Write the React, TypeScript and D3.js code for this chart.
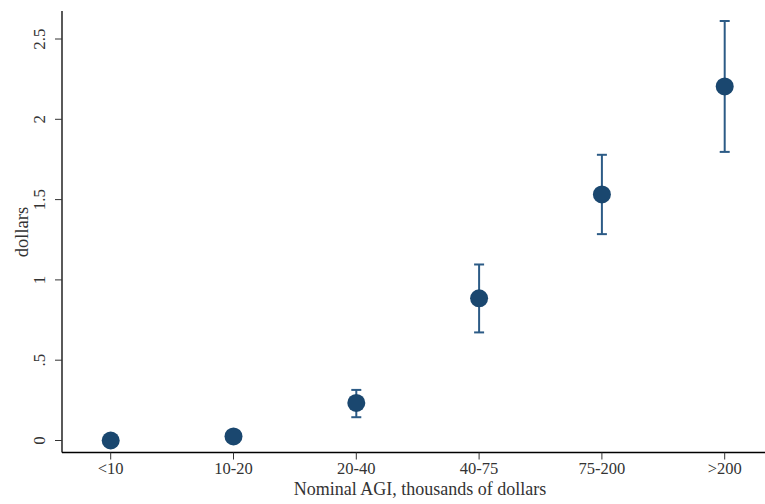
import React from "react";
import * as d3 from "d3";

const categories = ["<10", "10-20", "20-40", "40-75", "75-200", ">200"];
const means = [0.0, 0.025, 0.234, 0.885, 1.532, 2.205];
const lower = [null, null, 0.145, 0.673, 1.285, 1.797];
const upper = [null, null, 0.315, 1.096, 1.779, 2.612];
const yTicks = [0, 0.5, 1, 1.5, 2, 2.5];
const yTickLabels = ["0", ".5", "1", "1.5", "2", "2.5"];

const W = 765;
const H = 504;
const axisLeft = 62;
const axisBottom = 452.5;
const axisTop = 11;
const axisRight = 765;

export default function App() {
  const x = d3.scalePoint<string>().domain(categories).range([110.7, 724.7]);
  const y = d3.scaleLinear().domain([0, 2.5]).range([440.5, 39]);
  const navy = "#1a476f";
  const errColor = "#2c5b86";
  const font = "'Liberation Serif', 'Times New Roman', serif";
  return (
    <svg
      width={W}
      height={H}
      style={{ position: "absolute", left: 0, top: 0, background: "#fff" }}
      fontFamily={font}
    >
      <rect x={0} y={0} width={W} height={H} fill="#fff" />
      {/* y axis */}
      <line x1={axisLeft} x2={axisLeft} y1={axisTop} y2={axisBottom} stroke="#000" strokeWidth={1.3} />
      {yTicks.map((t, i) => (
        <g key={t}>
          <line x1={axisLeft - 7} x2={axisLeft} y1={y(t)} y2={y(t)} stroke="#333" strokeWidth={1} />
          <text
            transform={`translate(${45},${y(t)}) rotate(-90)`}
            textAnchor="middle"
            fontSize={17}
            fill="#333"
          >
            {yTickLabels[i]}
          </text>
        </g>
      ))}
      <text
        transform={`translate(${28},${232}) rotate(-90)`}
        textAnchor="middle"
        fontSize={18.5}
        fill="#333"
      >
        dollars
      </text>
      {/* x axis */}
      <line x1={axisLeft} x2={axisRight} y1={axisBottom} y2={axisBottom} stroke="#000" strokeWidth={1.3} />
      {categories.map((c) => (
        <g key={c}>
          <line x1={x(c)} x2={x(c)} y1={axisBottom} y2={axisBottom + 7} stroke="#333" strokeWidth={1} />
          <text x={x(c)} y={473.5} textAnchor="middle" fontSize={16.5} fill="#333">
            {c}
          </text>
        </g>
      ))}
      <text x={420} y={494.5} textAnchor="middle" fontSize={18} fill="#333">
        Nominal AGI, thousands of dollars
      </text>
      {/* error bars */}
      {categories.map((c, i) => {
        const lo = lower[i];
        const hi = upper[i];
        if (lo == null || hi == null) return null;
        const cx = x(c)!;
        return (
          <g key={"e" + c} stroke={errColor} strokeWidth={2}>
            <line x1={cx} x2={cx} y1={y(lo)} y2={y(hi)} />
            <line x1={cx - 5} x2={cx + 5} y1={y(lo)} y2={y(lo)} />
            <line x1={cx - 5} x2={cx + 5} y1={y(hi)} y2={y(hi)} />
          </g>
        );
      })}
      {/* points */}
      {categories.map((c, i) => (
        <circle key={"p" + c} cx={x(c)} cy={y(means[i])} r={9} fill={navy} />
      ))}
    </svg>
  );
}
